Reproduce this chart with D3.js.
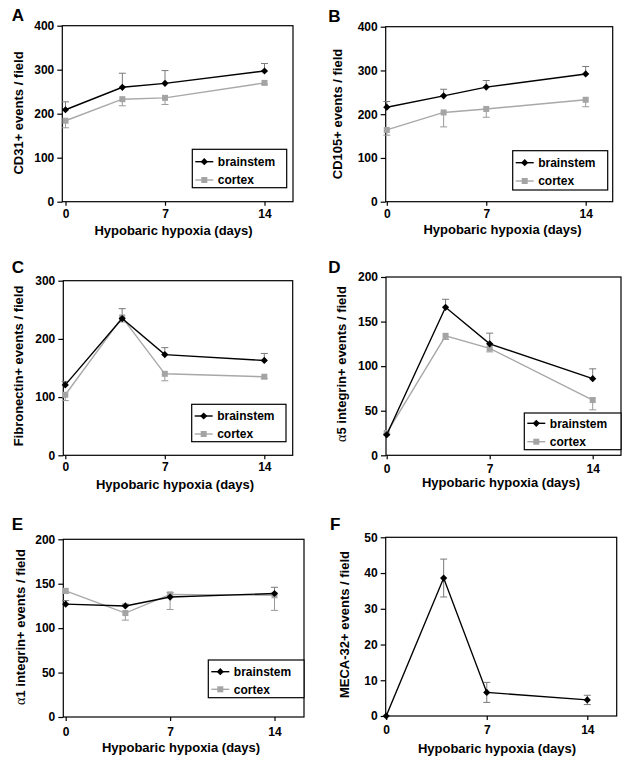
<!DOCTYPE html>
<html>
<head>
<meta charset="utf-8">
<script src="https://cdn.jsdelivr.net/npm/d3@7"></script>
<style>
html, body { margin: 0; padding: 0; background: #fff; }
svg text { font-family: "Liberation Sans", Arial, sans-serif; font-weight: bold; fill: #000; }
</style>
</head>
<body>
<svg id="chart" width="629" height="764"></svg>
<script>
// ---------- data ----------
const days = [0, 4, 7, 14];
const xTickValues = [0, 7, 14];
const xTitle = "Hypobaric hypoxia (days)";
const seriesNames = ["brainstem", "cortex"];

const cd31Brainstem = [209, 260, 269, 297];
const cd31BrainstemErr = [18, 32, 29, 17];
const cd31Cortex = [184, 233, 236, 270];
const cd31CortexErr = [16, 15, 15, 3];

const cd105Brainstem = [216, 242, 262, 292];
const cd105BrainstemErr = [13, 15, 15, 17];
const cd105Cortex = [164, 204, 212, 233];
const cd105CortexErr = [12, 33, 19, 16];

const fnBrainstem = [121, 235, 173, 163];
const fnBrainstemErr = [6, 17, 12, 12];
const fnCortex = [104, 237, 140, 135];
const fnCortexErr = [10, 8, 12, 3];

const a5Brainstem = [23, 166, 125, 86];
const a5BrainstemErr = [1, 9, 12, 11];
const a5Cortex = [25, 134, 120, 62];
const a5CortexErr = [2, 4, 4, 11];

const a1Brainstem = [127, 125, 135, 139];
const a1BrainstemErr = [4, 2, 5, 7];
const a1Cortex = [142, 117, 138, 137];
const a1CortexErr = [3, 8, 17, 17];

const meca32 = [0, 38.6, 6.6, 4.5];
const meca32Err = [0, 5.3, 2.8, 1.3];

const yTicks400 = [0, 100, 200, 300, 400];
const yTicks300 = [0, 100, 200, 300];
const yTicks200 = [0, 50, 100, 150, 200];
const yTicks50 = [0, 10, 20, 30, 40, 50];

const panelLetters = ["A", "B", "C", "D", "E", "F"];
const yTitles = [
  {pre: "", text: "CD31+ events / field"},
  {pre: "", text: "CD105+ events / field"},
  {pre: "", text: "Fibronectin+ events / field"},
  {pre: "\u03b1", text: "5 integrin+ events / field"},
  {pre: "\u03b1", text: "1 integrin+ events / field"},
  {pre: "", text: "MECA-32+ events / field"}
];

// ---------- layout ----------
const layouts = [
  {box: [62.3, 25.7, 293, 201.7], d0: 65.5, d14: 264.5, tickPad: 3.5, letter: [11.7, 20.7], yt: [22.5, 113], xt: [173.5, 234.6],
   legend: {box: [192.3, 149.3, 286.7, 187.7], rows: [161.7, 180]}},
  {box: [385.7, 26.7, 612.7, 201.7], d0: 386.8, d14: 585.7, tickPad: 4, letter: [328.3, 21.7], yt: [341.5, 114], xt: [502.5, 234],
   legend: {box: [512.7, 150.7, 607.7, 190], rows: [162.7, 181]}},
  {box: [63.3, 280.7, 292.7, 455.3], d0: 65.3, d14: 264.3, tickPad: 3.5, letter: [11.7, 273.3], yt: [22.5, 366], xt: [175, 488.5],
   legend: {box: [191.7, 404.3, 286, 441.7], rows: [416, 434]}},
  {box: [386, 277, 621, 455.3], d0: 386.7, d14: 592.7, tickPad: 5, letter: [328.3, 273.3], yt: [345.5, 364], xt: [501, 486.5],
   legend: {box: [524.3, 413, 621, 449.7], rows: [423.3, 441.7]}},
  {box: [63.3, 539.3, 304, 717], d0: 65.7, d14: 274.5, tickPad: 6.5, letter: [11.7, 530], yt: [24.5, 627], xt: [181, 751.5],
   legend: {box: [208.3, 660, 304, 697.7], rows: [671.7, 689.3]}},
  {box: [385.7, 537.3, 616.7, 716], d0: 386.2, d14: 587.3, tickPad: 5, letter: [330, 530], yt: [348.5, 624.5], xt: [497, 753],
   legend: null}
];

const panels = [
  {yTicks: yTicks400, series: [
    {name: seriesNames[0], v: cd31Brainstem, e: cd31BrainstemErr, dir: "up"},
    {name: seriesNames[1], v: cd31Cortex, e: cd31CortexErr, dir: "down"}]},
  {yTicks: yTicks400, series: [
    {name: seriesNames[0], v: cd105Brainstem, e: cd105BrainstemErr, dir: "up"},
    {name: seriesNames[1], v: cd105Cortex, e: cd105CortexErr, dir: "down"}]},
  {yTicks: yTicks300, series: [
    {name: seriesNames[0], v: fnBrainstem, e: fnBrainstemErr, dir: "up"},
    {name: seriesNames[1], v: fnCortex, e: fnCortexErr, dir: "down"}]},
  {yTicks: yTicks200, series: [
    {name: seriesNames[0], v: a5Brainstem, e: a5BrainstemErr, dir: "up"},
    {name: seriesNames[1], v: a5Cortex, e: a5CortexErr, dir: "down"}]},
  {yTicks: yTicks200, series: [
    {name: seriesNames[0], v: a1Brainstem, e: a1BrainstemErr, dir: "up"},
    {name: seriesNames[1], v: a1Cortex, e: a1CortexErr, dir: "down"}]},
  {yTicks: yTicks50, series: [
    {name: seriesNames[0], v: meca32, e: meca32Err, dir: "both"}]}
];

const style = {
  brainstem: {line: "#000", marker: "#000", err: "#7a7a7a", shape: "diamond"},
  cortex: {line: "#a8a8a8", marker: "#a4a4a4", err: "#9a9a9a", shape: "square"}
};

const svg = d3.select("#chart");

function drawMarker(g, shape, cx, cy, color) {
  if (shape === "diamond") {
    const r = 3.6;
    g.append("path").attr("d", `M${cx},${cy - r}L${cx + r},${cy}L${cx},${cy + r}L${cx - r},${cy}Z`).attr("fill", color);
  } else {
    const s = 6;
    g.append("rect").attr("x", cx - s / 2).attr("y", cy - s / 2).attr("width", s).attr("height", s).attr("fill", color);
  }
}

panels.forEach((p, i) => {
  const L = layouts[i];
  const [bx0, by0, bx1, by1] = L.box;
  const yMax = p.yTicks[p.yTicks.length - 1];
  const x = d3.scaleLinear().domain([0, 14]).range([L.d0, L.d14]);
  const y = d3.scaleLinear().domain([0, yMax]).range([by1, by0]);
  const g = svg.append("g");

  // plot frame
  g.append("rect").attr("x", bx0).attr("y", by0).attr("width", bx1 - bx0).attr("height", by1 - by0)
    .attr("fill", "none").attr("stroke", "#000").attr("stroke-width", 1.2);

  // y axis
  const yAxis = d3.axisLeft(y).tickValues(p.yTicks).tickSize(5).tickPadding(3).tickFormat(d3.format("d"));
  const ya = g.append("g").attr("transform", `translate(${bx0},0)`).call(yAxis);
  ya.select(".domain").remove();
  ya.selectAll("line").attr("stroke", "#000").attr("stroke-width", 1.2);
  ya.selectAll("text").attr("font-size", 12).attr("font-family", "Liberation Sans, Arial, sans-serif").attr("font-weight", "bold").attr("fill", "#000");

  // x axis
  const xAxis = d3.axisBottom(x).tickValues(xTickValues).tickSize(4).tickPadding(L.tickPad).tickFormat(d3.format("d"));
  const xa = g.append("g").attr("transform", `translate(0,${by1})`).call(xAxis);
  xa.select(".domain").remove();
  xa.selectAll("line").attr("stroke", "#000").attr("stroke-width", 1.2);
  xa.selectAll("text").attr("font-size", 12).attr("font-family", "Liberation Sans, Arial, sans-serif").attr("font-weight", "bold").attr("fill", "#000");

  // error bars
  p.series.forEach(s => {
    const st = style[s.name];
    days.forEach((d, k) => {
      if (!s.e[k]) return;
      const v = s.v[k], e = s.e[k];
      const lo = s.dir === "up" ? v : v - e;
      const hi = s.dir === "down" ? v : v + e;
      const cx = x(d);
      g.append("line").attr("x1", cx).attr("x2", cx).attr("y1", y(lo)).attr("y2", y(hi))
        .attr("stroke", st.err).attr("stroke-width", 1);
      const caps = s.dir === "up" ? [hi] : s.dir === "down" ? [lo] : [lo, hi];
      caps.forEach(c => g.append("line").attr("x1", cx - 3.5).attr("x2", cx + 3.5).attr("y1", y(c)).attr("y2", y(c))
        .attr("stroke", st.err).attr("stroke-width", 1));
    });
  });

  // lines + markers (cortex first so brainstem sits on top)
  p.series.slice().reverse().forEach(s => {
    const st = style[s.name];
    const line = d3.line().x((d, k) => x(days[k])).y(d => y(d));
    g.append("path").datum(s.v).attr("d", line).attr("fill", "none").attr("stroke", st.line).attr("stroke-width", 1.4);
    s.v.forEach((v, k) => drawMarker(g, st.shape, x(days[k]), y(v), st.marker));
  });

  // legend
  if (L.legend) {
    const [lx0, ly0, lx1, ly1] = L.legend.box;
    g.append("rect").attr("x", lx0).attr("y", ly0).attr("width", lx1 - lx0).attr("height", ly1 - ly0)
      .attr("fill", "#fff").attr("stroke", "#000").attr("stroke-width", 1.2);
    p.series.forEach((s, k) => {
      const st = style[s.name];
      const ry = L.legend.rows[k];
      g.append("line").attr("x1", lx0 + 3).attr("x2", lx0 + 21).attr("y1", ry).attr("y2", ry)
        .attr("stroke", st.line).attr("stroke-width", 1.4);
      drawMarker(g, st.shape, lx0 + 12, ry, st.marker);
      g.append("text").attr("x", lx0 + 25.5).attr("y", ry + 4.4).attr("font-size", 12).text(s.name);
    });
  }

  // titles
  g.append("text").attr("x", L.xt[0]).attr("y", L.xt[1]).attr("text-anchor", "middle").attr("font-size", 13).text(xTitle);
  const yt = g.append("text").attr("transform", `translate(${L.yt[0]},${L.yt[1]}) rotate(-90)`)
    .attr("text-anchor", "middle").attr("font-size", 13);
  if (yTitles[i].pre) {
    yt.append("tspan").attr("font-family", "Liberation Serif, 'DejaVu Serif', serif").attr("font-weight", "normal")
      .attr("font-size", 14).text(yTitles[i].pre);
  }
  yt.append("tspan").text(yTitles[i].text);

  // panel letter
  g.append("text").attr("x", L.letter[0]).attr("y", L.letter[1]).attr("font-size", 17).text(panelLetters[i]);
});
</script>
</body>
</html>
